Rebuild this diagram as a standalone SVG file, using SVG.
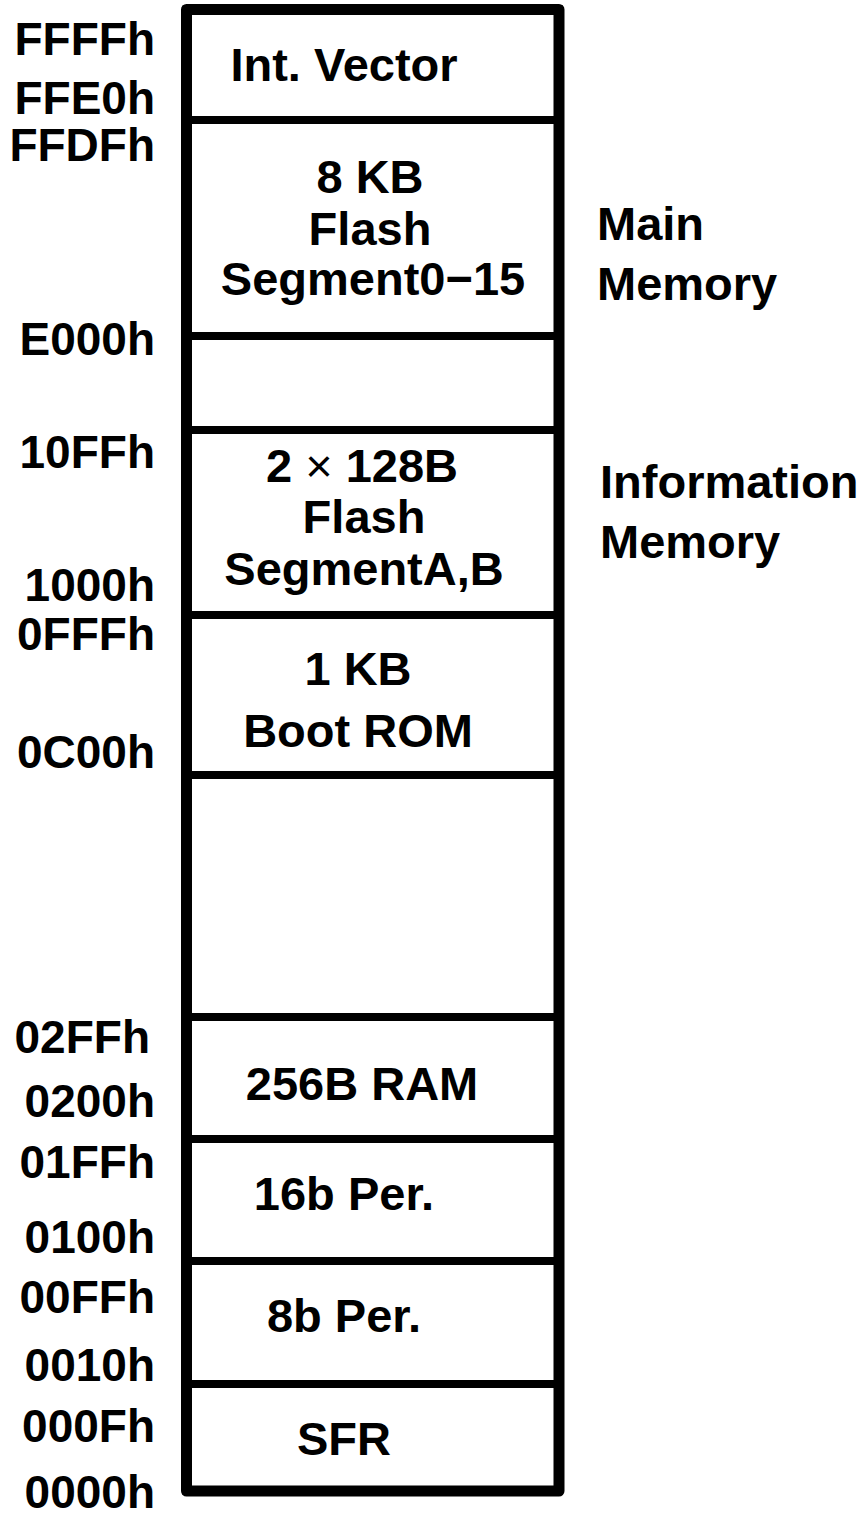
<svg xmlns="http://www.w3.org/2000/svg" width="864" height="1515" viewBox="0 0 864 1515">
<style>
.seg{fill:#fff;stroke:#000;stroke-width:8}
.frame{fill:none;stroke:#000;stroke-width:11;stroke-linejoin:round}
.t{font-family:"Liberation Sans",Arial,sans-serif;font-weight:bold;font-size:47px;fill:#000;text-anchor:middle}
.a{font-family:"Liberation Sans",Arial,sans-serif;font-weight:bold;font-size:46px;fill:#000;text-anchor:end}
.r{font-family:"Liberation Sans",Arial,sans-serif;font-weight:bold;font-size:47px;fill:#000}
.x{font-weight:normal}
</style>
<rect width="864" height="1515" fill="#fff"/>
<g id="seg-intvector"><rect class="seg" x="186.5" y="9.5" width="372.5" height="110.5"/><text class="t" x="344" y="81">Int. Vector</text></g>
<g id="seg-mainflash"><rect class="seg" x="186.5" y="120" width="372.5" height="216"/><text class="t" x="370" y="193">8 KB</text><text class="t" x="370" y="245">Flash</text><text class="t" x="373" y="295">Segment0−15</text></g>
<g id="seg-gap1"><rect class="seg" x="186.5" y="336" width="372.5" height="94"/></g>
<g id="seg-infoflash"><rect class="seg" x="186.5" y="430" width="372.5" height="185"/><text class="t" x="362" y="482">2 <tspan class="x">×</tspan> 128B</text><text class="t" x="364" y="533">Flash</text><text class="t" x="364" y="585">SegmentA,B</text></g>
<g id="seg-bootrom"><rect class="seg" x="186.5" y="615" width="372.5" height="160"/><text class="t" x="358" y="685">1 KB</text><text class="t" x="358" y="747">Boot ROM</text></g>
<g id="seg-gap2"><rect class="seg" x="186.5" y="775" width="372.5" height="242"/></g>
<g id="seg-ram"><rect class="seg" x="186.5" y="1017" width="372.5" height="122"/><text class="t" x="362" y="1100">256B RAM</text></g>
<g id="seg-per16"><rect class="seg" x="186.5" y="1139" width="372.5" height="122"/><text class="t" x="344" y="1210">16b Per.</text></g>
<g id="seg-per8"><rect class="seg" x="186.5" y="1261" width="372.5" height="123"/><text class="t" x="344" y="1332">8b Per.</text></g>
<g id="seg-sfr"><rect class="seg" x="186.5" y="1384" width="372.5" height="107"/><text class="t" x="344" y="1455">SFR</text></g>
<g id="frame"><rect class="frame" x="186.5" y="9.5" width="372.5" height="1481.5"/></g>
<g id="connectors"></g>
<g id="addresses">
<text class="a" x="155" y="55">FFFFh</text>
<text class="a" x="155" y="114">FFE0h</text>
<text class="a" x="155" y="161">FFDFh</text>
<text class="a" x="155" y="355">E000h</text>
<text class="a" x="155" y="468">10FFh</text>
<text class="a" x="155" y="601">1000h</text>
<text class="a" x="155" y="650">0FFFh</text>
<text class="a" x="155" y="768">0C00h</text>
<text class="a" x="150" y="1053">02FFh</text>
<text class="a" x="155" y="1117">0200h</text>
<text class="a" x="155" y="1178">01FFh</text>
<text class="a" x="155" y="1253">0100h</text>
<text class="a" x="155" y="1313">00FFh</text>
<text class="a" x="155" y="1381">0010h</text>
<text class="a" x="155" y="1442">000Fh</text>
<text class="a" x="155" y="1508">0000h</text>
</g>
<g id="label-main"><text class="r" x="597" y="240">Main</text><text class="r" x="597" y="300">Memory</text></g>
<g id="label-info"><text class="r" x="600" y="498">Information</text><text class="r" x="600" y="558">Memory</text></g>
</svg>
